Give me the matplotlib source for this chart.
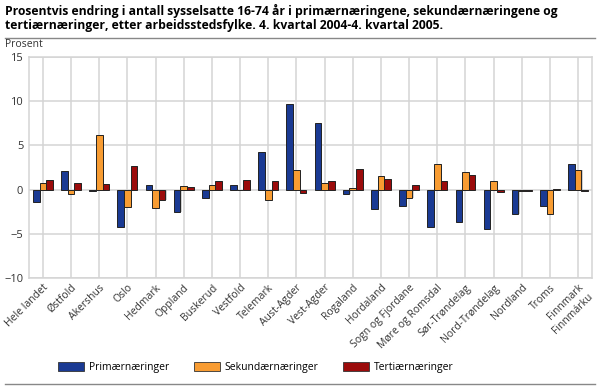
import matplotlib
matplotlib.use('Agg')
import matplotlib.pyplot as plt
import numpy as np

categories = ['Hele landet', 'Østfold', 'Akershus', 'Oslo', 'Hedmark', 'Oppland',
              'Buskerud', 'Vestfold', 'Telemark', 'Aust-Agder', 'Vest-Agder',
              'Rogaland', 'Hordaland', 'Sogn og Fjordane', 'Møre og Romsdal',
              'Sør-Trøndelag', 'Nord-Trøndelag', 'Nordland', 'Troms',
              'Finnmark\nFinnmárku']
primaer = [-1.4, 2.1, -0.1, -4.2, 0.5, -2.5, -0.9, 0.5, 4.2, 9.7,
           7.5, -0.5, -2.2, -1.9, -4.2, -3.7, -4.5, -2.7, -1.9, 2.9]
sekundaer = [0.8, -0.5, 6.2, -2.0, -2.1, 0.4, 0.5, 0.0, -1.2, 2.2,
             0.7, 0.2, 1.5, -1.0, 2.9, 2.0, 1.0, -0.2, -2.7, 2.2]
tertiaer = [1.1, 0.8, 0.6, 2.7, -1.2, 0.3, 1.0, 1.1, 1.0, -0.4,
            1.0, 2.3, 1.2, 0.5, 1.0, 1.6, -0.3, -0.1, 0.1, -0.1]
series = ['Primærnæringer', 'Sekundærnæringer', 'Tertiærnæringer']
colors = ['#1a3a93', '#f89c32', '#9b0b0b']

plt.rcParams['font.family'] = ['Open Sans', 'DejaVu Sans']

fig = plt.figure(figsize=(6, 3.9), dpi=100)
ax = fig.add_axes([0.048, 0.287, 0.939, 0.567])

x = np.arange(len(categories))
w = 0.235
for i, (vals, name, c) in enumerate(zip([primaer, sekundaer, tertiaer], series, colors)):
    xs = x + (i - 1) * w
    # soft shadow behind bars
    ax.bar(xs + 0.04, vals, w, color='#b0b0b0', alpha=0.6, zorder=2)
    ax.bar(xs, vals, w, color=c, edgecolor='#222222', linewidth=0.7, label=name, zorder=3)

ax.set_xlim(-0.5, len(categories) - 0.5)
ax.set_ylim(-10, 15)
ax.set_yticks([-10, -5, 0, 5, 10, 15])
ax.set_xticks(x)
ax.set_xticklabels(categories, rotation=45, ha='right', rotation_mode='anchor', fontsize=7.5, color='#333333')
ax.tick_params(axis='y', labelsize=8, colors='#333333', length=0, pad=4)
ax.tick_params(axis='x', length=0, pad=3)
ax.grid(True, color='#d4d4d4', linewidth=1.1, zorder=0)
ax.set_axisbelow(True)
for s in ax.spines.values():
    s.set_color('#d4d4d4')
    s.set_linewidth(1.1)

fig.text(0.008, 0.99, 'Prosentvis endring i antall sysselsatte 16-74 år i primærnæringene, sekundærnæringene og\n'
         'tertiærnæringer, etter arbeidsstedsfylke. 4. kvartal 2004-4. kvartal 2005.',
         fontsize=8.7, fontweight='bold', va='top', ha='left', linespacing=1.15)
fig.add_artist(plt.Line2D([0.008, 0.992], [0.903, 0.903], color='#888888', linewidth=1))
fig.add_artist(plt.Line2D([0.008, 0.992], [0.015, 0.015], color='#888888', linewidth=1))
fig.text(0.008, 0.886, 'Prosent', fontsize=7.5, color='#333333', va='center')

handles = [plt.Rectangle((0, 0), 1, 1, facecolor=c, edgecolor='#333333', linewidth=0.6) for c in colors]
fig.legend(handles, series, loc='center left', bbox_to_anchor=(0.097, 0.057), ncol=3, frameon=False,
           fontsize=7.5, handlelength=2.5, handleheight=0.9, columnspacing=2.3, handletextpad=0.5,
           borderpad=0, borderaxespad=0)

fig.savefig('out.png', dpi=100)
